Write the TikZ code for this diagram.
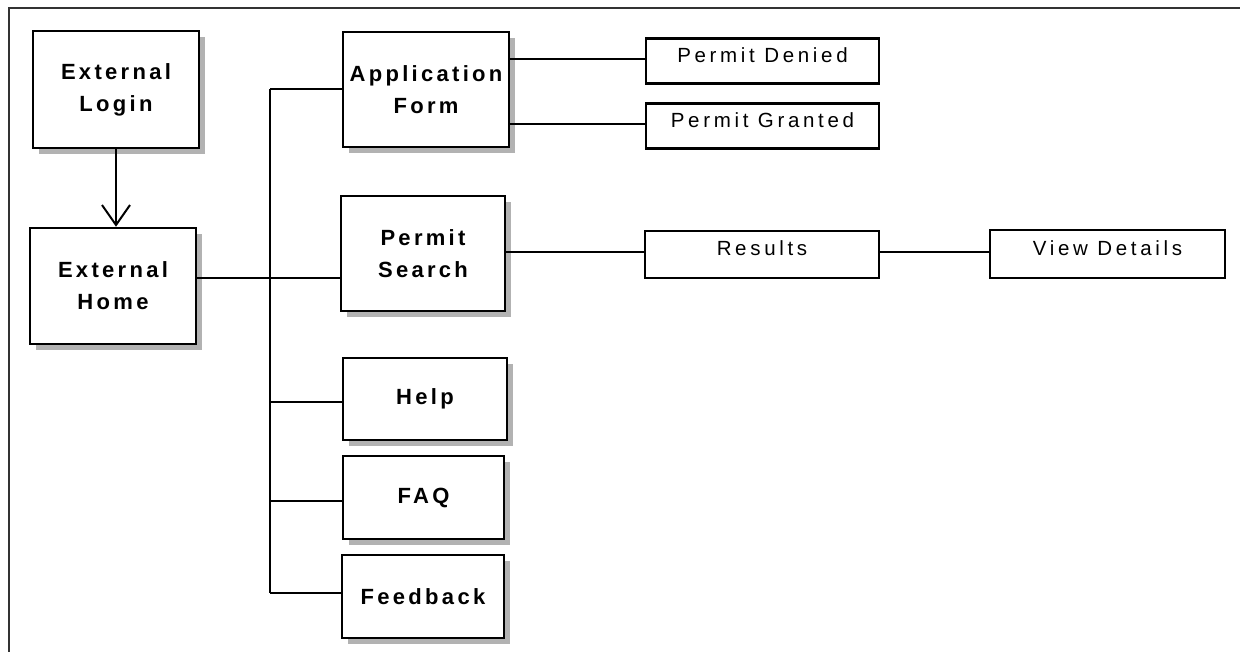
\documentclass[tikz,border=0pt]{standalone}
\usepackage{fontspec}
\setmainfont{Liberation Sans}
\newfontfamily\headfont[LetterSpace=15]{Liberation Sans}
\newfontfamily\itemfont[LetterSpace=18]{Liberation Sans}
\usetikzlibrary{arrows.meta,shadows}

\tikzset{
  page/.style={draw, line width=2.5pt, fill=white, inner sep=0pt, align=center,
    font=\headfont\bfseries\fontsize{22}{32}\selectfont,
    general shadow={fill=black!30, shadow xshift=6pt, shadow yshift=-6pt}},
  leaf/.style={draw, line width=2.2pt, fill=white, inner sep=0pt,
    minimum width=233pt, minimum height=45pt, text height=15pt, text depth=12pt,
    font=\itemfont\fontsize{20.5}{24}\selectfont},
  link/.style={line width=2pt},
  frame/.style={line width=2pt, black!80}
}

\begin{document}
\begin{tikzpicture}[x=1pt, y=-1pt]
\useasboundingbox (0,0) rectangle (1240,652);

% outer frame (top and left edges)
\draw[frame] (9,652) -- (9,8) -- (1240,8);

% main pages
\node[page, minimum width=166pt, minimum height=117pt] (login) at (116,89.5) {External\\Login};
\node[page, minimum width=166pt, minimum height=116pt] (home) at (113,286) {External\\Home};
\node[page, minimum width=166pt, minimum height=115pt] (appform) at (426,89.5) {Application\\Form};
\node[page, minimum width=164pt, minimum height=115pt] (search) at (423,253.5) {Permit\\Search};
\node[page, minimum width=164pt, minimum height=82pt] (help) at (425,399) {Help};
\node[page, minimum width=161pt, minimum height=83pt] (faq) at (423.5,497.5) {FAQ};
\node[page, minimum width=162pt, minimum height=83pt] (feedback) at (423,596.5) {Feedback};

% result pages
\node[leaf] (denied) at (762.5,61) {Permit Denied};
\node[leaf] (granted) at (762.5,126) {Permit Granted};
\node[leaf, minimum width=234pt, minimum height=47pt] (results) at (762,254.5) {Results};
\node[leaf, minimum width=235pt, minimum height=48pt] (view) at (1107.5,254) {View Details};

% login leads to home
\draw[link, -{Straight Barb[length=20pt, width=28pt]}] (login.south) -- (login.south |- home.north);

% connection points on the page edges
\coordinate (helpin) at ([yshift=-3pt]help.west);
\coordinate (faqin) at ([yshift=-3.5pt]faq.west);
\coordinate (deniedin) at ([yshift=2pt]denied.west);
\coordinate (grantedin) at ([yshift=2pt]granted.west);
\coordinate (resultsin) at ([yshift=2.5pt]results.west);
\coordinate (resultsout) at ([yshift=2.5pt]results.east);

% navigation bus from home
\coordinate (bustop) at (270,89.5);
\coordinate (hub) at (270,278);
\coordinate (busend) at (270,593);
\draw[link] (bustop) -- (busend);
\draw[link] (bustop) -- (appform.west);
\draw[link] (home.east |- hub) -- (search.west |- hub);
\draw[link] (busend |- helpin) -- (helpin);
\draw[link] (busend |- faqin) -- (faqin);
\draw[link] (busend) -- (feedback.west |- busend);

% application outcomes
\draw[link] (appform.east |- deniedin) -- (deniedin);
\draw[link] (appform.east |- grantedin) -- (grantedin);

% search flow
\draw[link] (search.east |- resultsin) -- (resultsin);
\draw[link] (resultsout) -- (view.west |- resultsout);
\end{tikzpicture}
\end{document}
